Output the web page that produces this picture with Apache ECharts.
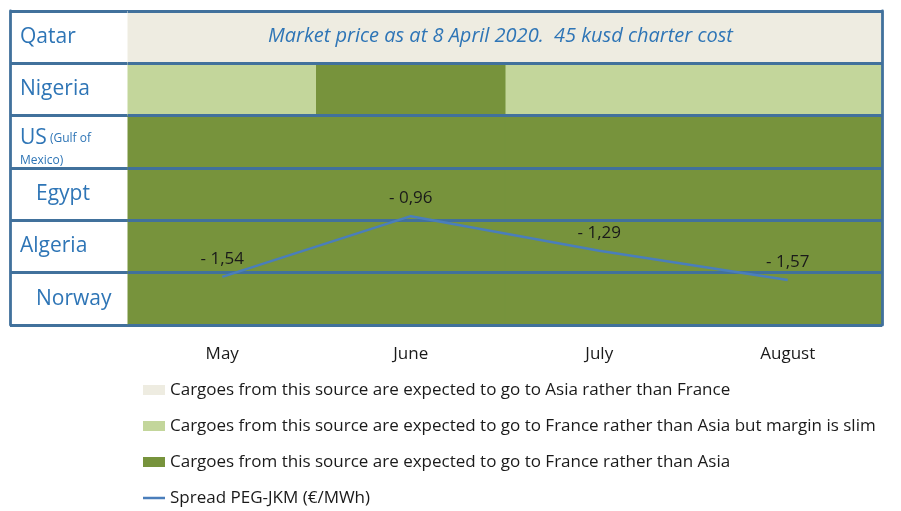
<!DOCTYPE html>
<html>
<head>
<meta charset="utf-8">
<title>LNG cargo destinations</title>
<script src="https://cdn.jsdelivr.net/npm/echarts@6/dist/echarts.min.js"></script>
<style>
  html, body { margin: 0; padding: 0; background: #ffffff; }
  #chart { width: 901px; height: 511px; }
</style>
</head>
<body>
<div id="chart"></div>
<script>
const months = ["May", "June", "July", "August"];
const sources = ["Qatar", "Nigeria", "US", "Egypt", "Algeria", "Norway"];
// 0 = Asia, 1 = France (slim margin), 2 = France
const outlook = [
  [0, 0, 0, 0],
  [1, 2, 1, 1],
  [2, 2, 2, 2],
  [2, 2, 2, 2],
  [2, 2, 2, 2],
  [2, 2, 2, 2],
];
const outlookNames = [
  "Cargoes from this source are expected to go to Asia rather than France",
  "Cargoes from this source are expected to go to France rather than Asia but margin is slim",
  "Cargoes from this source are expected to go to France rather than Asia",
];
const spreadName = "Spread PEG-JKM (€/MWh)";
const spread = [-1.54, -0.96, -1.29, -1.57];
const note = "Market price as at 8 April 2020.  45 kusd charter cost";

const font = "Open Sans";
const blueText = "#2e75b6";
const border = "#41719c";
const lineBlue = "#4a7ebb";
const cellColors = ["#eeece1", "#c3d69b", "#77933c"];

function drawCell(params, api) {
  const c = api.coord([api.value(0), api.value(1)]);
  const s = api.size([1, 1]);
  return {
    type: "rect",
    shape: { x: c[0] - s[0] / 2, y: c[1] - s[1] / 2, width: s[0], height: s[1] },
    style: { fill: api.visual("color"), stroke: api.visual("color"), lineWidth: 1 },
  };
}

function cellsFor(k) {
  const out = [];
  outlook.forEach((row, r) => {
    row.forEach((v, m) => {
      if (v === k) out.push([m, r]);
    });
  });
  return out;
}

// US carries a small note, Egypt and Norway sit a little indented
function sourceLabel(v) {
  if (v === "US") return "{gap| }\n{big|US} {small|(Gulf of}\n{small|Mexico)}";
  if (v === "Egypt" || v === "Norway") return "{pad|" + v + "}";
  return "{big|" + v + "}";
}

const chart = echarts.init(document.getElementById("chart"));

chart.setOption({
  backgroundColor: "#ffffff",
  textStyle: { fontFamily: font },
  title: {
    text: note,
    left: 263,
    top: 21,
    textStyle: {
      fontFamily: font,
      fontStyle: "italic",
      fontWeight: "normal",
      fontSize: 20,
      color: blueText,
    },
  },
  grid: [
    { left: 128, right: 19, top: 11, bottom: 186 },
    { left: 10, width: 118, top: 11, bottom: 186 },
  ],
  legend: {
    orient: "vertical",
    left: 143,
    top: 380,
    height: 200,
    padding: 0,
    itemWidth: 22,
    itemHeight: 10,
    itemGap: 16,
    textStyle: { fontFamily: font, fontSize: 17, color: "#1a1a1a", lineHeight: 20 },
    data: outlookNames
      .map((n) => ({ name: n, icon: "rect" }))
      .concat([{ name: spreadName, icon: "path://M0,0H22V2.5H0Z" }]),
  },
  xAxis: [
    {
      type: "category",
      gridIndex: 0,
      data: months,
      axisLine: { show: false },
      axisTick: { show: false },
      axisLabel: { margin: 21, fontSize: 17, color: "#1a1a1a", fontFamily: font },
    },
    { type: "value", gridIndex: 1, show: false },
  ],
  yAxis: [
    {
      type: "category",
      gridIndex: 0,
      inverse: true,
      data: sources,
      z: 3,
      axisLine: { show: false },
      axisTick: { show: false },
      axisLabel: { show: false },
      splitLine: { show: true, lineStyle: { color: border, width: 2.8 } },
    },
    {
      type: "value",
      gridIndex: 0,
      position: "right",
      min: -2,
      max: 1,
      z: 3,
      axisLine: { show: true, lineStyle: { color: border, width: 2.8 } },
      axisTick: { show: false },
      axisLabel: { show: false },
      splitLine: { show: false },
    },
    {
      type: "category",
      gridIndex: 1,
      inverse: true,
      data: sources,
      axisLine: { show: true, lineStyle: { color: border, width: 2.8 } },
      axisTick: { show: false },
      splitLine: { show: true, lineStyle: { color: border, width: 2.8 } },
      axisLabel: {
        inside: true,
        margin: 10,
        align: "left",
        formatter: sourceLabel,
        rich: {
          gap: { fontSize: 1, lineHeight: 13 },
          big: { fontFamily: font, fontSize: 21, color: blueText, lineHeight: 24 },
          pad: { fontFamily: font, fontSize: 21, color: blueText, padding: [0, 0, 0, 16] },
          small: { fontFamily: font, fontSize: 12, color: blueText, lineHeight: 20 },
        },
      },
    },
  ],
  series: outlookNames
    .map((name, k) => ({
      name: name,
      type: "custom",
      xAxisIndex: 0,
      yAxisIndex: 0,
      z: 1,
      itemStyle: { color: cellColors[k] },
      renderItem: drawCell,
      data: cellsFor(k),
    }))
    .concat([
      {
        name: spreadName,
        type: "line",
        xAxisIndex: 0,
        yAxisIndex: 1,
        z: 10,
        data: spread,
        symbol: "circle",
        symbolSize: 0,
        color: lineBlue,
        lineStyle: { color: lineBlue, width: 2.5 },
        label: {
          show: true,
          position: "top",
          distance: 9,
          fontSize: 17,
          fontFamily: font,
          color: "#1a1a1a",
          formatter: (p) => "- " + Math.abs(p.value).toFixed(2).replace(".", ","),
        },
      },
    ]),
});
</script>
</body>
</html>
